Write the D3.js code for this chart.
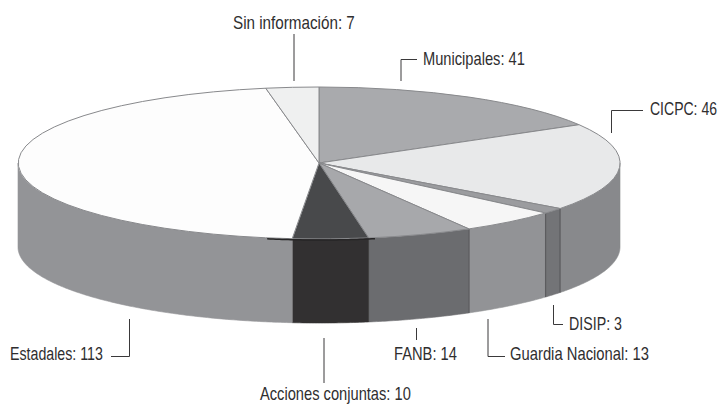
<!DOCTYPE html>
<meta charset="utf-8">
<script src="https://d3js.org/d3.v7.min.js"></script>
<style>
  html, body { margin: 0; background: #fff; }
  text { font-family: "Liberation Sans", sans-serif; font-size: 18px; fill: #2f2e2f; }
</style>
<div id="my_dataviz"></div>
<script>

// data, clockwise from 12 o'clock
var categories = ["Municipales", "CICPC", "DISIP", "Guardia Nacional", "FANB", "Acciones conjuntas", "Estadales", "Sin información"];
var values = [41, 46, 3, 13, 14, 10, 113, 7];
var topColors = ["#a9aaad", "#e8e9ea", "#9b9c9f", "#f6f6f6", "#a7a8ab", "#48494b", "#fdfdfd", "#eff0f0"];
var wallColors = ["#8b8c8f", "#88898c", "#737477", "#929396", "#6b6c6f", "#323031", "#939497", "#939497"];

// label anchor, squeezed width and leader line, one per category
var labelX = [423, 650, 569, 510, 394, 260, 10, 233];
var labelY = [65, 115, 330, 360, 360, 400, 360, 29];
var labelW = [102, 67, 53, 139, 63, 151, 93, 122];
var leaders = [
  [[401, 81], [401, 59.5], [417, 59.5]],
  [[611.5, 133], [611.5, 110.5], [643, 110.5]],
  [[553.5, 305], [553.5, 324.5], [563, 324.5]],
  [[488, 319], [488, 356.5], [505, 356.5]],
  [[416.5, 328], [416.5, 340]],
  [[324, 338], [324, 383]],
  [[129.5, 319], [129.5, 356.5], [111, 356.5]],
  [[294, 34], [294, 81]]
];

var width = 719, height = 404;
var cx = 319, cy = 163, rx = 301, ry = 76, depth = 84;

var svg = d3.select("#my_dataviz")
  .append("svg")
    .attr("width", width)
    .attr("height", height)
    .style("display", "block");

var pie = d3.pie().sort(null).value(function(d) { return d.value; });
var slices = pie(categories.map(function(c, i) { return {name: c, value: values[i], i: i}; }));

// point on the rim of the tilted disc
function rim(a, dy) {
  return [cx + rx * Math.sin(a), cy - ry * Math.cos(a) + dy];
}

// wall path for the front part of a slice
function wallPath(d) {
  var a0 = Math.max(d.startAngle, Math.PI / 2);
  var a1 = Math.min(d.endAngle, Math.PI * 3 / 2);
  if (a1 <= a0) return null;
  var angles = d3.range(a0, a1, 0.01).concat([a1]);
  var pts = angles.map(function(a) { return rim(a, 0); })
    .concat(angles.slice().reverse().map(function(a) { return rim(a, depth); }));
  return d3.line()(pts) + "Z";
}

var walls = slices.filter(function(d) { return wallPath(d); });

// walls
svg.append("g").selectAll("path")
  .data(walls)
  .enter().append("path")
    .attr("d", wallPath)
    .attr("fill", function(d) { return wallColors[d.data.i]; })
    .attr("stroke", function(d) { return wallColors[d.data.i]; })
    .attr("stroke-width", 0.6);

// dark seams between the walls on the right hand side
svg.append("g").selectAll("path")
  .data(walls.filter(function(d) { return d.data.i == 1 || d.data.i == 2 || d.data.i == 3; }))
  .enter().append("path")
    .attr("d", function(d) { return d3.line()([rim(d.endAngle, 0), rim(d.endAngle, depth)]); })
    .attr("stroke", "#5c5c5f")
    .attr("stroke-width", 1.2);

// top of the disc
var arc = d3.arc().innerRadius(0).outerRadius(1);
var disc = svg.append("g")
    .attr("transform", "translate(" + cx + "," + cy + ") scale(" + rx + "," + ry + ")");

disc.selectAll("path")
  .data(slices)
  .enter().append("path")
    .attr("d", arc)
    .attr("fill", function(d) { return topColors[d.data.i]; })
    .attr("stroke", "#88898c")
    .attr("stroke-width", 1)
    .attr("vector-effect", "non-scaling-stroke");

// black edge along the front of the disc
svg.append("path")
    .attr("d", d3.line()(d3.range(Math.PI - 0.187, Math.PI + 0.18, 0.01).map(function(a) { return rim(a, 1); })))
    .attr("fill", "none")
    .attr("stroke", "#262526")
    .attr("stroke-width", 1.5);

// leader lines
svg.append("g").selectAll("path")
  .data(leaders)
  .enter().append("path")
    .attr("d", d3.line())
    .attr("fill", "none")
    .attr("stroke", "#3a393a")
    .attr("stroke-width", 1);

// labels, squeezed sideways because no condensed face is installed
svg.append("g").selectAll("text")
  .data(categories)
  .enter().append("text")
    .text(function(d, i) { return d + ": " + values[i]; })
    .attr("transform", function(d, i) {
      var sx = labelW[i] / this.getComputedTextLength();
      return "translate(" + labelX[i] + "," + labelY[i] + ") scale(" + sx + ",1)";
    });

</script>
